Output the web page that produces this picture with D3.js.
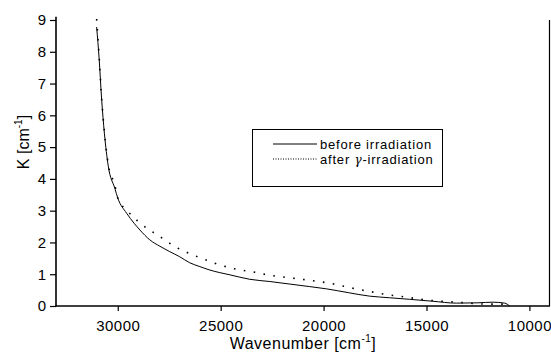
<!DOCTYPE html>
<html><head><meta charset="utf-8">
<script src="https://cdn.jsdelivr.net/npm/d3@7"></script>
<style>body{margin:0;background:#fff}svg{display:block}text{font-family:"Liberation Sans",Arial,sans-serif;fill:#000}</style>
</head><body>
<script>
const beforeWavenumber = [31025,30900,30780,30650,30460,30140,30000,29570,29200,28920,28440,27950,27470,26990,26500,26010,25520,25040,24550,23580,22610,21640,20670,19860,18800,17760,16800,15820,14700,13550,12500,11770,11200,10960];
const beforeK =          [8.78, 7.74, 6.48, 5.44, 4.40, 3.70, 3.40, 2.92, 2.60, 2.39, 2.08, 1.88, 1.71, 1.55, 1.36, 1.24, 1.13, 1.05, 0.98, 0.84, 0.77, 0.69, 0.61, 0.54, 0.42, 0.31, 0.26, 0.21, 0.15, 0.09, 0.10, 0.12, 0.09, 0.00];
const afterWavenumber = [31025,30900,30780,30650,30460,30140,30000,29500,29040,28570,28060,27170,26200,25250,24340,23420,22450,21540,20590,19650,18730,17790,16820,15900,15010,14030,13110,12170,11240,10960];
const afterK =          [9.03, 7.80, 6.50, 5.50, 4.45, 3.80, 3.40, 2.97, 2.68, 2.44, 2.23, 1.85, 1.57, 1.34, 1.17, 1.07, 0.95, 0.88, 0.80, 0.71, 0.58, 0.46, 0.35, 0.27, 0.19, 0.14, 0.10, 0.06, 0.06, 0.00];
const xMajorTicks = [30000,25000,20000,15000,10000];
const yMajorTicks = [0,1,2,3,4,5,6,7,8,9];
const seriesNames = ["before irradiation","after γ-irradiation"];

const W=551,H=352;
const svg=d3.select("body").append("svg").attr("width",W).attr("height",H);
const x=d3.scaleLinear().domain([33000,9000]).range([56,550]);
const y=d3.scaleLinear().domain([0,9]).range([306,20]);

// curves
const line=d3.line().x(d=>x(d[0])).y(d=>y(d[1])).curve(d3.curveMonotoneX);
svg.append("path").datum(beforeWavenumber.map((w,i)=>[w,beforeK[i]]))
  .attr("d",line).attr("fill","none").attr("stroke","#000").attr("stroke-width",1);
svg.append("path").datum(afterWavenumber.map((w,i)=>[w,afterK[i]]))
  .attr("d",line).attr("fill","none").attr("stroke","#000").attr("stroke-width",1.6)
  .attr("stroke-dasharray","1.6,8.4");

// x axis
const xMinor=d3.range(33000,8999,-1000);
const gx=svg.append("g").attr("transform","translate(0,306)");
gx.call(d3.axisBottom(x).tickValues(xMinor).tickSize(5).tickFormat(""));
gx.call(d3.axisBottom(x).tickValues(xMajorTicks).tickSize(5).tickPadding(9).tickFormat(d3.format("d")));
gx.selectAll("text").attr("font-size",15).attr("letter-spacing",0.5).attr("font-family","Liberation Sans, Arial, sans-serif");
gx.selectAll(".domain").remove();
gx.selectAll("line").attr("stroke","#000").attr("stroke-width",1.2);

// y axis
const yMinor=d3.range(0.5,9,1);
const gy=svg.append("g").attr("transform","translate(56,0)");
gy.call(d3.axisLeft(y).tickValues(yMinor).tickSize(4).tickFormat(""));
gy.call(d3.axisLeft(y).tickValues(yMajorTicks).tickSize(6).tickPadding(4).tickFormat(d3.format("d")));
gy.selectAll("text").attr("font-size",15).attr("font-family","Liberation Sans, Arial, sans-serif");
gy.selectAll(".domain").remove();
gy.selectAll("line").attr("stroke","#000").attr("stroke-width",1.2);

// frame lines
svg.append("line").attr("x1",56).attr("x2",56).attr("y1",y(9.1)).attr("y2",306.5).attr("stroke","#000").attr("stroke-width",1.6);
svg.append("line").attr("x1",55.5).attr("x2",550).attr("y1",306).attr("y2",306).attr("stroke","#000").attr("stroke-width",1.6);
svg.append("line").attr("x1",549.5).attr("x2",549.5).attr("y1",y(9)).attr("y2",306).attr("stroke","#000").attr("stroke-width",1.2);

// axis titles
const xt=svg.append("text").attr("x",303).attr("y",348.5).attr("text-anchor","middle").attr("font-size",16).attr("letter-spacing",0.5);
xt.append("tspan").text("Wavenumber [cm");
xt.append("tspan").text("-1").attr("font-size",10).attr("dy",-7);
xt.append("tspan").text("]").attr("dy",7);
const yt=svg.append("text").attr("transform","translate(29,142) rotate(-90)").attr("text-anchor","middle").attr("font-size",16);
yt.append("tspan").text("K [cm");
yt.append("tspan").text("-1").attr("font-size",10).attr("dy",-7);
yt.append("tspan").text("]").attr("dy",7);

// legend
const lg=svg.append("g");
lg.append("rect").attr("x",252.5).attr("y",129.5).attr("width",190).attr("height",57).attr("fill","#fff").attr("stroke","#000").attr("stroke-width",1);
lg.append("line").attr("x1",273).attr("x2",317).attr("y1",144).attr("y2",144).attr("stroke","#000").attr("stroke-width",1);
lg.append("line").attr("x1",273).attr("x2",317).attr("y1",159).attr("y2",159).attr("stroke","#000").attr("stroke-width",1).attr("stroke-dasharray","1,1.5");
lg.append("text").attr("x",320).attr("y",148.5).attr("font-size",13).attr("letter-spacing",0.8).text(seriesNames[0]);
const t2=lg.append("text").attr("x",320).attr("y",163.5).attr("font-size",13).attr("letter-spacing",0.8);
t2.append("tspan").text("after ");
t2.append("tspan").text("γ").attr("font-family","DejaVu Serif, serif").attr("font-style","italic").attr("font-size",12);
t2.append("tspan").text("-irradiation");
</script>
</body></html>
